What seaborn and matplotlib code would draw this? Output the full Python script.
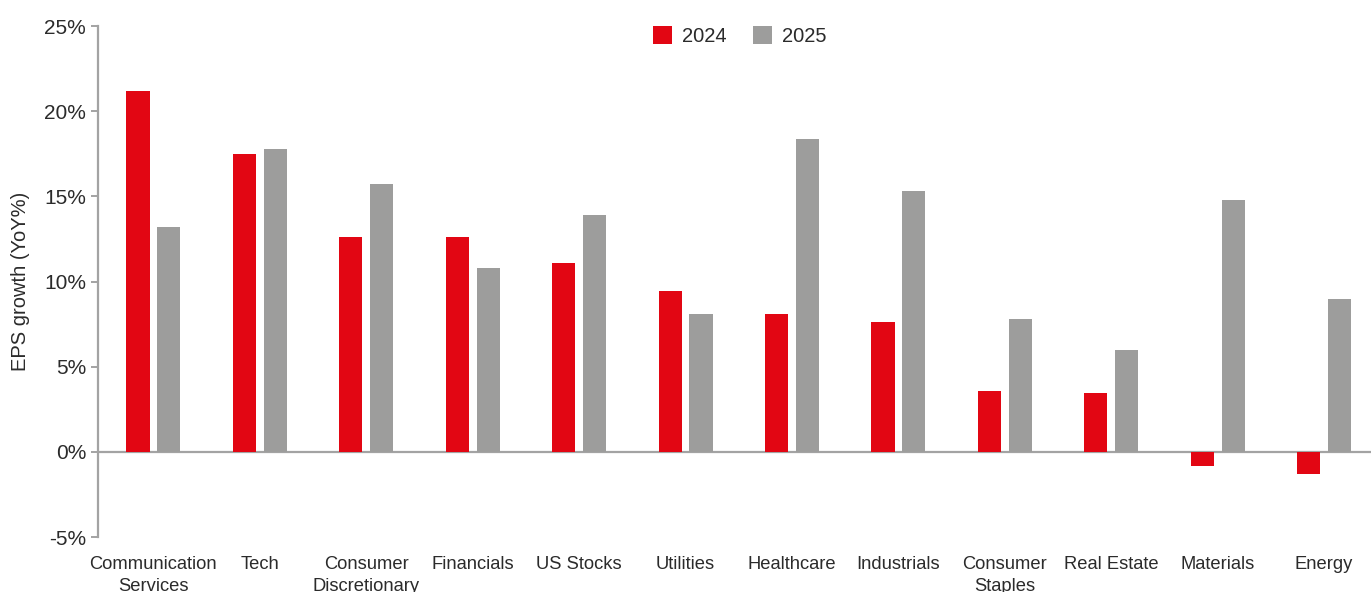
import pandas as pd
import seaborn as sns
import matplotlib.pyplot as plt
from matplotlib.ticker import FuncFormatter

# EPS growth by sector
sectors = ['Communication\nServices', 'Tech', 'Consumer\nDiscretionary', 'Financials',
           'US Stocks', 'Utilities', 'Healthcare', 'Industrials', 'Consumer\nStaples',
           'Real Estate', 'Materials', 'Energy']
eps_2024 = [21.2, 17.5, 12.6, 12.6, 11.1, 9.45, 8.1, 7.65, 3.6, 3.45, -0.85, -1.3]
eps_2025 = [13.2, 17.8, 15.7, 10.8, 13.9, 8.1, 18.4, 15.3, 7.8, 6.0, 14.8, 9.0]
years = ['2024', '2025']

red = '#E20613'
grey = '#9D9D9C'
axis_grey = '#A3A3A3'
text_col = '#2B2B2B'

df = pd.DataFrame({
    'sector': sectors * 2,
    'year': [years[0]] * len(sectors) + [years[1]] * len(sectors),
    'eps': eps_2024 + eps_2025,
})

sns.set_theme(style='white', rc={
    'axes.spines.top': False,
    'axes.spines.right': False,
    'axes.spines.bottom': False,
})
plt.rcParams['font.family'] = ['Liberation Sans', 'DejaVu Sans']

fig = plt.figure(figsize=(13.71, 5.92), dpi=100)
ax = fig.add_axes([0.0715, 0.0929, 0.9285, 0.863])

sns.barplot(data=df, x='sector', y='eps', hue='year', order=sectors, hue_order=years,
            palette=[red, grey], width=0.58, gap=0.25, saturation=1,
            linewidth=0, edgecolor='none', ax=ax)

ax.axhline(0, color=axis_grey, lw=1.6, zorder=0)

ax.set_ylim(-5, 25)
ax.set_yticks(range(-5, 26, 5))
ax.yaxis.set_major_formatter(FuncFormatter(lambda v, p: f'{v:.0f}%'))
ax.set_xlim(-0.52, 11.44)

ax.spines['left'].set_color(axis_grey)
ax.spines['left'].set_linewidth(1.6)
ax.tick_params(axis='y', which='major', left=True, length=5, width=1.4,
               color=axis_grey, labelsize=15, labelcolor=text_col, pad=3.5)
ax.tick_params(axis='x', bottom=False, labelsize=13.2, labelcolor=text_col, pad=8)
for lbl in ax.get_xticklabels():
    lbl.set_linespacing(1.35)

ax.set_xlabel('')
ax.set_ylabel('EPS growth (YoY%)', fontsize=14.5, color=text_col, labelpad=10)

ax.legend(loc='upper center', bbox_to_anchor=(0.504, 1.035), ncol=2, frameon=False,
          fontsize=14.5, handlelength=0.95, handleheight=0.95, columnspacing=1.3,
          handletextpad=0.5, labelcolor=text_col)

fig.savefig('out.png', dpi=100)
